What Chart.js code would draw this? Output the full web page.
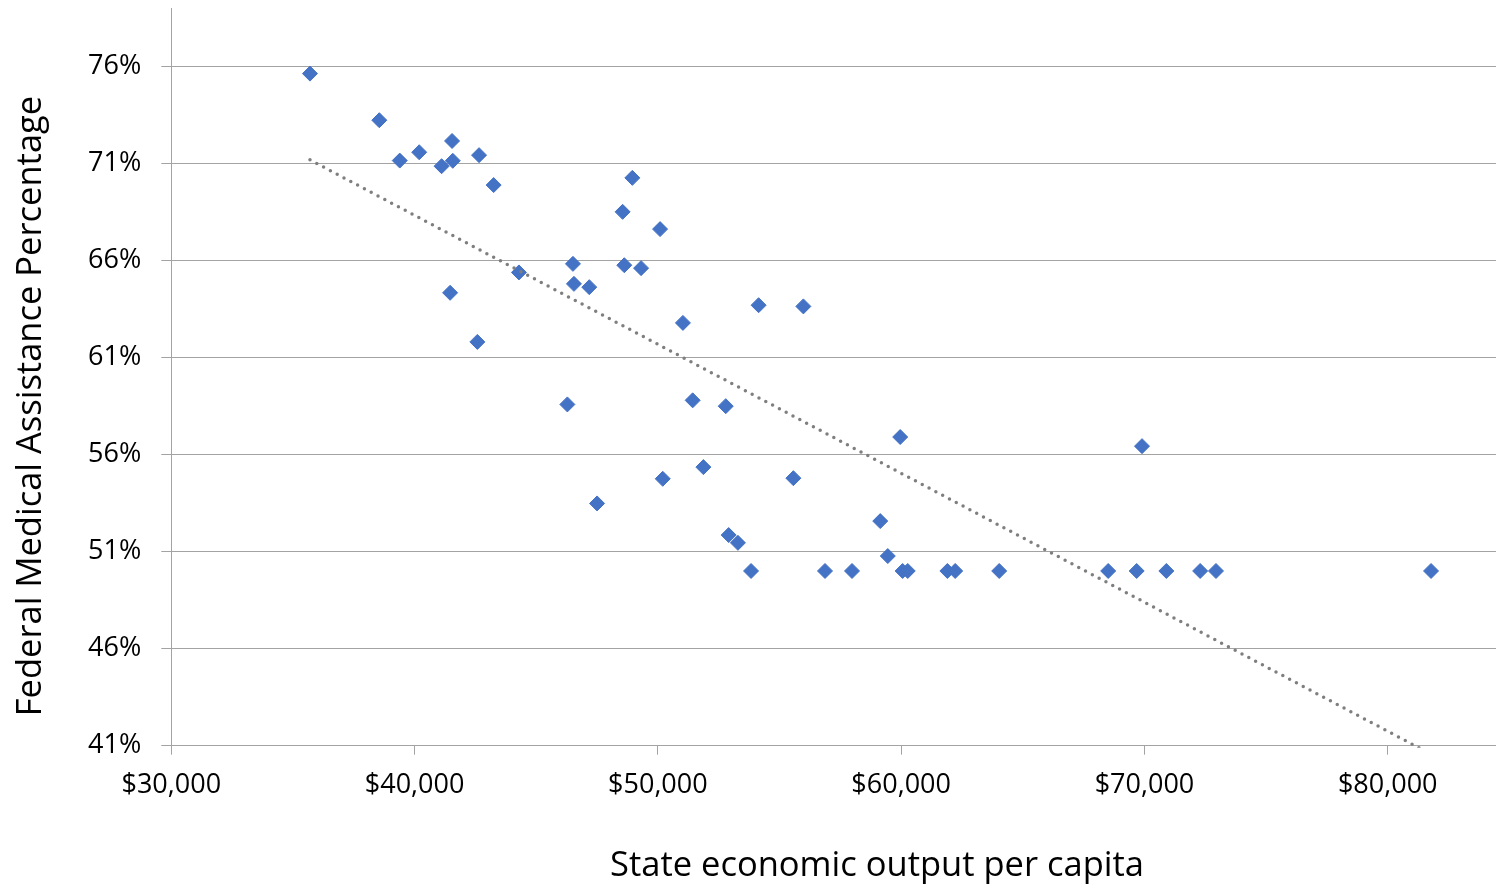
<!DOCTYPE html>
<html>
<head>
<meta charset="utf-8">
<title>FMAP vs. state economic output per capita</title>
<script src="https://cdn.jsdelivr.net/npm/chart.js@4/dist/chart.umd.min.js"></script>
<style>
  html, body { margin: 0; padding: 0; background: #fff; overflow: hidden; }
  #wrap { width: 1496px; height: 891px; position: relative; }
</style>
</head>
<body>
<div id="wrap"><canvas id="chart"></canvas></div>
<script>
// State economic output per capita (US$), one entry per state
const gdpPerCapita = [
  35700, 38550, 39390, 40190, 41110, 41540, 41570, 42650, 43250, 41460,
  42580, 44290, 46510, 46550, 47180, 46280, 47500, 48550, 48620, 48950,
  49310, 50090, 50200, 51030, 51430, 51870, 52790, 52910, 53290, 53830,
  54140, 55570, 55980, 56870, 57980, 59140, 59450, 59960, 60060, 60270,
  61900, 62220, 64030, 68510, 69680, 69900, 70900, 72290, 72940, 81780
];

// Federal Medical Assistance Percentage (%), same state order
const fmapPercent = [
  75.62, 73.22, 71.14, 71.57, 70.85, 72.15, 71.13, 71.42, 69.88, 64.33,
  61.80, 65.38, 65.82, 64.79, 64.62, 58.58, 53.48, 68.50, 65.75, 70.25,
  65.60, 67.61, 54.75, 62.78, 58.79, 55.35, 58.49, 51.85, 51.45, 50.00,
  63.69, 54.78, 63.63, 50.00, 50.00, 52.57, 50.77, 56.90, 50.00, 50.00,
  50.00, 50.00, 50.00, 50.00, 50.00, 56.43, 50.00, 50.00, 50.00, 50.00
];

const xTickValues = [30000, 40000, 50000, 60000, 70000, 80000];
const yTickValues = [41, 46, 51, 56, 61, 66, 71, 76];

const xAxisTitle = 'State economic output per capita';
const yAxisTitle = 'Federal Medical Assistance Percentage';

// Ordinary least-squares fit for the linear trendline
function linearFit(xs, ys) {
  const n = xs.length;
  let sx = 0, sy = 0, sxx = 0, sxy = 0;
  for (let i = 0; i < n; i++) {
    sx += xs[i]; sy += ys[i];
    sxx += xs[i] * xs[i]; sxy += xs[i] * ys[i];
  }
  const slope = (n * sxy - sx * sy) / (n * sxx - sx * sx);
  const intercept = (sy - slope * sx) / n;
  return { slope, intercept };
}

const fit = linearFit(gdpPerCapita, fmapPercent);
const xMin = Math.min(...gdpPerCapita);
const xMax = Math.max(...gdpPerCapita);
const trendPoints = [xMin, xMax].map(x => ({ x, y: fit.intercept + fit.slope * x }));

const statePoints = gdpPerCapita.map((x, i) => ({ x, y: fmapPercent[i] }));

const FONT = '"Open Sans", "Noto Sans", sans-serif';
const gridColor = '#a3a3a3';

// Axis titles drawn directly on the canvas
const axisTitles = {
  id: 'axisTitles',
  afterDraw(chart) {
    const ctx = chart.ctx;
    ctx.save();
    ctx.fillStyle = '#000';
    ctx.font = '34.5px ' + FONT;
    ctx.textAlign = 'center';
    ctx.textBaseline = 'middle';
    ctx.fillText(xAxisTitle, 877, 866);
    ctx.translate(31, 406);
    ctx.rotate(-Math.PI / 2);
    ctx.fillText(yAxisTitle, 0, 0);
    ctx.restore();
  }
};

new Chart(document.getElementById('chart'), {
  type: 'scatter',
  data: {
    datasets: [
      {
        label: 'States',
        data: statePoints,
        pointStyle: 'rectRot',
        pointRadius: 7.5,
        pointHoverRadius: 7.5,
        backgroundColor: '#4472C4',
        borderColor: '#4472C4',
        borderWidth: 1,
        order: 1
      },
      {
        type: 'line',
        label: 'Linear trend',
        data: trendPoints,
        borderColor: '#7f7f7f',
        borderWidth: 3.5,
        borderDash: [0, 7.7],
        borderCapStyle: 'round',
        pointRadius: 0,
        fill: false,
        tension: 0,
        clip: 2,
        order: 0
      }
    ]
  },
  options: {
    responsive: true,
    maintainAspectRatio: false,
    animation: false,
    events: [],
    layout: { autoPadding: false, padding: { top: 8, left: 0, right: 0, bottom: 0 } },
    plugins: {
      legend: { display: false },
      tooltip: { enabled: false },
      title: { display: false }
    },
    scales: {
      x: {
        type: 'linear',
        min: 30000,
        max: 84450,
        afterBuildTicks: s => { s.ticks = xTickValues.map(v => ({ value: v })); },
        afterFit: s => {
          s.height = 145.3;
          s.paddingLeft = 0; s.paddingRight = 0;
        },
        grid: {
          drawOnChartArea: false,
          drawTicks: true,
          tickLength: 9,
          color: gridColor,
          lineWidth: 1
        },
        border: { display: true, color: gridColor, width: 1 },
        ticks: {
          autoSkip: false,
          maxRotation: 0,
          padding: 14,
          color: '#000',
          font: { family: FONT, size: 27 },
          callback: v => '$' + Number(v).toLocaleString('en-US')
        }
      },
      y: {
        type: 'linear',
        min: 41,
        max: 79,
        afterBuildTicks: s => { s.ticks = yTickValues.map(v => ({ value: v })); },
        afterFit: s => {
          s.width = 171.3;
          s.paddingTop = 0; s.paddingBottom = 0;
        },
        grid: {
          drawOnChartArea: true,
          drawTicks: true,
          tickLength: 10,
          color: gridColor,
          lineWidth: 1
        },
        border: { display: true, color: gridColor, width: 1 },
        ticks: {
          padding: 20,
          color: '#000',
          font: { family: FONT, size: 27 },
          callback: v => v + '%'
        }
      }
    }
  },
  plugins: [axisTitles]
});
</script>
</body>
</html>
